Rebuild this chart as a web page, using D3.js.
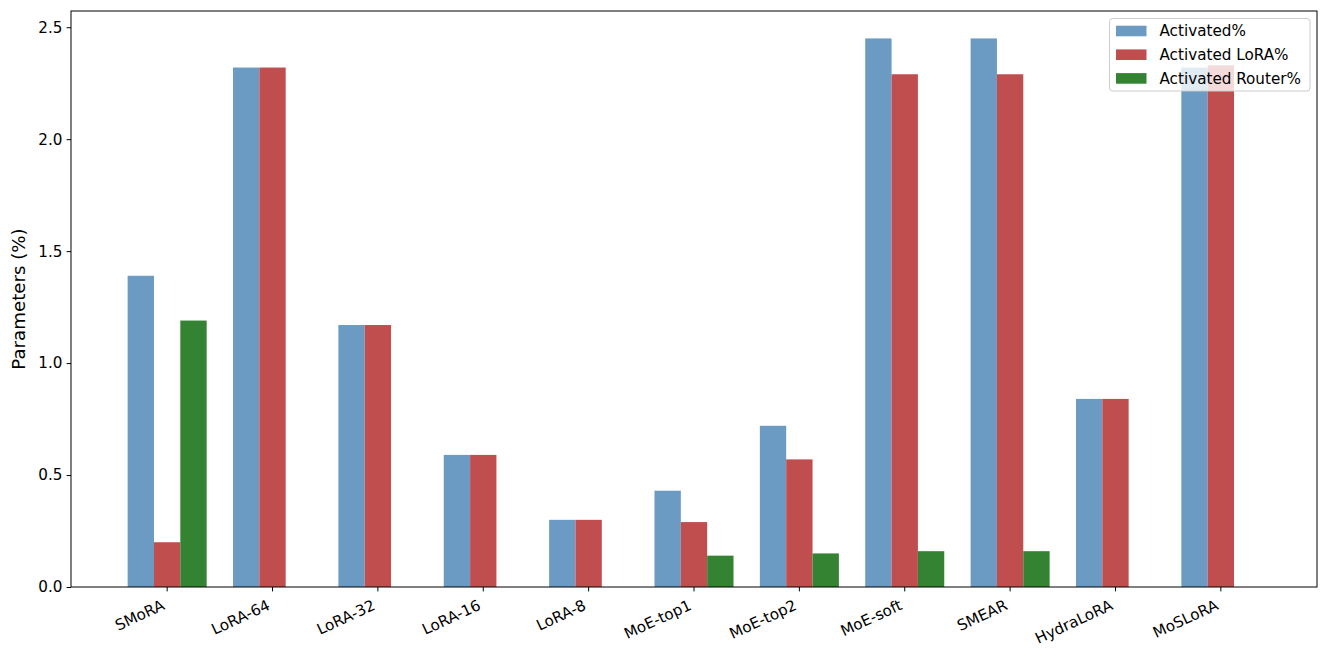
<!DOCTYPE html>
<html><head><meta charset="utf-8">
<script src="https://cdn.jsdelivr.net/npm/d3@7"></script>
<style>body{margin:0;background:#fff}svg{display:block}text{font-family:"DejaVu Sans",sans-serif}</style>
</head><body><svg id="c" width="1329" height="659"></svg>
<script>
const categories = ["SMoRA","LoRA-64","LoRA-32","LoRA-16","LoRA-8","MoE-top1","MoE-top2","MoE-soft","SMEAR","HydraLoRA","MoSLoRA"];
const activated = [1.39,2.32,1.17,0.59,0.30,0.43,0.72,2.45,2.45,0.84,2.32];
const activatedLoRA = [0.20,2.32,1.17,0.59,0.30,0.29,0.57,2.29,2.29,0.84,2.33];
const activatedRouter = [1.19,0,0,0,0,0.14,0.15,0.16,0.16,0,0];
const seriesNames = ["Activated%","Activated LoRA%","Activated Router%"];
const seriesColors = ["#6b9bc3","#c14e4e","#338333"];
const yTicks = [0,0.5,1.0,1.5,2.0,2.5];

const series = [activated, activatedLoRA, activatedRouter];
const svg = d3.select("#c");
const L = 71, R = 1317, T = 11, B = 587;
const FS = 15.2;
const n = categories.length, bw = 0.25;
const x = d3.scaleLinear().domain([-0.375 - 0.05*(n-1+0.75), n-1+0.375 + 0.05*(n-1+0.75)]).range([L, R]);
const ymax = d3.max(series.flat()) * 1.05;
const y = d3.scaleLinear().domain([0, ymax]).range([B, T]);

// bars
series.forEach((vals, s) => {
  svg.append("g").selectAll("rect").data(vals).join("rect")
    .attr("x", (d,i) => x(i + (s-1)*bw - bw/2))
    .attr("width", (d,i) => x(i + (s-1)*bw + bw/2) - x(i + (s-1)*bw - bw/2))
    .attr("y", d => y(d))
    .attr("height", d => B - y(d))
    .attr("fill", seriesColors[s]);
});

// y axis
const ya = svg.append("g").attr("transform", `translate(${L},0)`)
  .call(d3.axisLeft(y).tickValues(yTicks).tickFormat(d3.format(".1f")).tickSizeOuter(0).tickSize(4.4).tickPadding(4.2));
ya.select(".domain").remove();
ya.selectAll("text").attr("font-size", FS).attr("fill","#000").style("font-family","DejaVu Sans");
ya.selectAll("line").attr("stroke","#000").attr("stroke-width",1);

// x axis
const xa = svg.append("g").attr("transform", `translate(0,${B})`);
const th = 25*Math.PI/180, hTxt = FS*1.164;
categories.forEach((c,i) => {
  xa.append("line").attr("x1", x(i)).attr("x2", x(i)).attr("y1", 0).attr("y2", 4.4).attr("stroke","#000");
  xa.append("text")
    .attr("transform", `translate(${x(i)},${9 + hTxt*Math.cos(th)}) rotate(-25)`)
    .attr("x", 0).attr("y", -0.236*FS)
    .attr("text-anchor","end").attr("font-size",FS).text(c);
});

// frame
svg.append("rect").attr("x", L).attr("y", T).attr("width", R-L).attr("height", B-T)
  .attr("fill","none").attr("stroke","#000").attr("stroke-width",1);

// y label
svg.append("text").attr("transform", `translate(25,${(T+B)/2}) rotate(-90)`)
  .attr("text-anchor","middle").attr("font-size",18.2).text("Parameters (%)");

// legend
const lg = svg.append("g");
const lx = 1109.5, ly = 18.5, lw = 200.5, lh = 72.5;
lg.append("rect").attr("x", lx).attr("y", ly).attr("width", lw).attr("height", lh)
  .attr("rx", 3).attr("fill","rgba(255,255,255,0.8)").attr("stroke","#cccccc").attr("stroke-width",1);
seriesNames.forEach((nm, s) => {
  const cy = ly + 12.5 + s*23.7;
  lg.append("rect").attr("x", lx + 6.5).attr("y", cy - 5.3).attr("width", 30.5).attr("height", 10.6).attr("fill", seriesColors[s]);
  lg.append("text").attr("x", lx + 50).attr("y", cy + 5.4).attr("font-size", FS).text(nm);
});
</script></body></html>
